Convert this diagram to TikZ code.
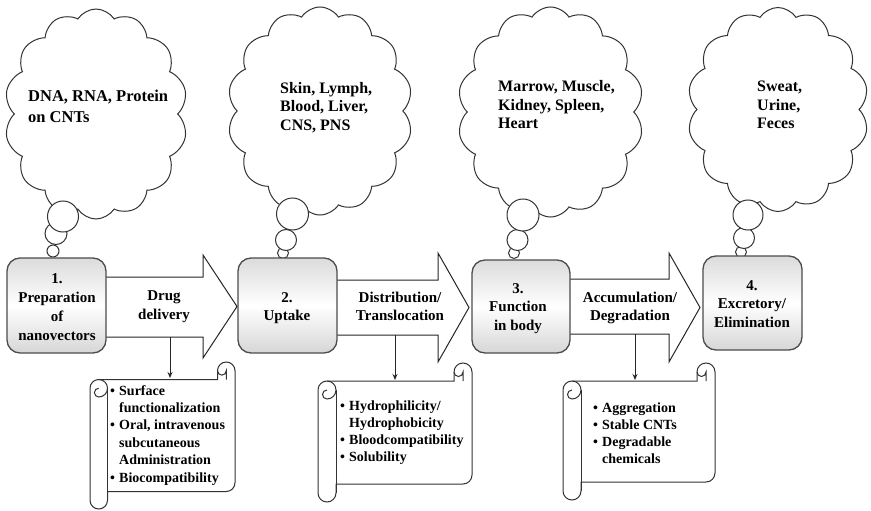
\documentclass[tikz,border=0pt]{standalone}
\usepackage{fontspec}
\setmainfont{Liberation Serif}
\usetikzlibrary{shapes.symbols,arrows.meta}

\newcommand{\tabL}[1]{\begin{tabular}[t]{@{}l@{}}#1\end{tabular}}
\newcommand{\tabC}[1]{\begin{tabular}[t]{@{}c@{}}#1\end{tabular}}
\newcommand{\myBul}{\makebox[9pt][l]{\textbullet}}
\newcommand{\myInd}{\hspace*{9pt}}

% scroll: L T R B ch  (image coordinates, y downwards)
\newcommand{\myScroll}[5]{%
  \pgfmathsetmacro{\sL}{#1}\pgfmathsetmacro{\sT}{#2}%
  \pgfmathsetmacro{\sR}{#3}\pgfmathsetmacro{\sB}{#4}%
  \pgfmathsetmacro{\sC}{#5}\pgfmathsetmacro{\sH}{#5/2}\pgfmathsetmacro{\sQ}{#5/4}%
  \filldraw[scrollline, fill=white]
    (\sL+\sH, \sT+\sC) -- (\sR-\sC, \sT+\sC) -- (\sR-\sC, \sT+\sH)
    arc[start angle=180, end angle=360, radius=\sH]
    -- (\sR, \sB-\sC-\sH) arc[start angle=0, end angle=90, radius=\sH]
    -- (\sL+\sC, \sB-\sC) -- (\sL+\sC, \sB-\sH)
    arc[start angle=0, end angle=180, radius=\sH]
    -- (\sL, \sT+\sC+\sH) arc[start angle=180, end angle=270, radius=\sH] -- cycle;
  \draw[scrollline] (\sL+\sC, \sT+\sC+\sH) -- (\sL+\sC, \sB-\sH);
  \draw[scrollline] (\sL+\sH, \sT+\sC) arc[start angle=270, end angle=450, radius=\sH]
    arc[start angle=90, end angle=270, radius=\sQ];
  \draw[scrollline] (\sR-\sH, \sT+\sC) -- (\sR-\sH, \sT+\sH)
    arc[start angle=0, end angle=180, radius=\sQ];
}

\begin{document}
\begin{tikzpicture}[x=1pt, y=-1pt,
  cloudsty/.style={cloud, draw=black!80, line width=1pt, fill=white, cloud puffs=14,
    cloud puff arc=115, cloud ignores aspect, inner sep=0pt},
  bubble/.style={draw=black!80, line width=1pt, fill=white},
  stage/.style={draw=black!70, line width=1.3pt, rounded corners=13pt,
    top color=gray!28, bottom color=gray!32, middle color=white},
  bigarrow/.style={draw=black!85, line width=1pt, fill=white, line join=miter},
  scrollline/.style={draw=black!80, line width=1pt},
  cloudtxt/.style={font=\bfseries\fontsize{16}{18.5}\selectfont, anchor=base west, inner sep=0pt},
  stagetxt/.style={font=\bfseries\fontsize{15}{19}\selectfont, anchor=base, inner sep=0pt},
  scrolltxt/.style={font=\bfseries\fontsize{14}{17}\selectfont, anchor=base west, inner sep=0pt},
  down/.style={draw=black!85, line width=1pt, -{Stealth[length=6pt,width=5pt]}}]
\useasboundingbox (0,0) rectangle (871,511);
\fill[white] (0,0) rectangle (871,511);

% ---------- clouds ----------
\node[cloudsty, minimum width=183pt, minimum height=210pt] (c1) at (96,114) {};
\node[cloudsty, minimum width=185pt, minimum height=208pt] (c2) at (320,111) {};
\node[cloudsty, minimum width=186pt, minimum height=210pt] (c3) at (550.5,112) {};
\node[cloudsty, minimum width=181pt, minimum height=204pt] (c4) at (778,109.5) {};

% thought bubbles
\node[bubble, circle, minimum size=12pt, inner sep=0pt] (p1c) at (53,251) {};
\node[bubble, circle, minimum size=22pt, inner sep=0pt] (p1b) at (56,233.5) {};
\node[bubble, circle, minimum size=31pt, inner sep=0pt] (p1a) at (63,216.5) {};
\node[bubble, circle, minimum size=11pt, inner sep=0pt] (p2c) at (283,253) {};
\node[bubble, circle, minimum size=21pt, inner sep=0pt] (p2b) at (286,240) {};
\node[bubble, circle, minimum size=32pt, inner sep=0pt] (p2a) at (292.5,214) {};
\node[bubble, circle, minimum size=11pt, inner sep=0pt] (p3c) at (514,253) {};
\node[bubble, circle, minimum size=21pt, inner sep=0pt] (p3b) at (517.5,240) {};
\node[bubble, circle, minimum size=32pt, inner sep=0pt] (p3a) at (523,215) {};
\node[bubble, circle, minimum size=11pt, inner sep=0pt] (p4c) at (741,252) {};
\node[bubble, circle, minimum size=21pt, inner sep=0pt] (p4b) at (744,238) {};
\node[bubble, circle, minimum size=30pt, inner sep=0pt] (p4a) at (748,215) {};

% cloud texts
\node[cloudtxt, font=\bfseries\fontsize{16.5}{21}\selectfont] (ct1) at (28,102) {\tabL{DNA, RNA, Protein\\on CNTs}};
\node[cloudtxt] (ct2) at (280,93) {\tabL{Skin, Lymph,\\Blood, Liver,\\CNS, PNS}};
\node[cloudtxt] (ct3) at (498,92) {\tabL{Marrow, Muscle,\\Kidney, Spleen,\\Heart}};
\node[cloudtxt] (ct4) at (757,92) {\tabL{Sweat,\\Urine,\\Feces}};

% ---------- big arrows ----------
\draw[bigarrow] (100,277) -- (203,277) -- (203,255) -- (237,306.5) -- (203,358) -- (203,337) -- (100,337) -- cycle;
\draw[bigarrow] (330,280) -- (438,280) -- (438,253) -- (469,307.5) -- (438,362) -- (438,335) -- (330,335) -- cycle;
\draw[bigarrow] (563,279) -- (669,279) -- (669,253) -- (700,307.5) -- (669,362) -- (669,334) -- (563,334) -- cycle;

\node[stagetxt] (a1) at (164,300) {\tabC{Drug\\delivery}};
\node[stagetxt, font=\bfseries\fontsize{15}{18.5}\selectfont] (a2) at (400,302) {\tabC{Distribution/\\Translocation}};
\node[stagetxt, font=\bfseries\fontsize{15}{18.5}\selectfont] (a3) at (630,302) {\tabC{Accumulation/\\Degradation}};

% ---------- stage boxes ----------
\node[stage, minimum width=99pt, minimum height=95pt] (b1) at (56.5,305.5) {};
\node[stage, minimum width=99pt, minimum height=95pt] (b2) at (287.5,305.5) {};
\node[stage, minimum width=98pt, minimum height=93pt] (b3) at (521,306.5) {};
\node[stage, minimum width=99pt, minimum height=94pt] (b4) at (752.5,303) {};

\node[stagetxt] (t1) at (57,283) {\tabC{1.\\Preparation\\of\\nanovectors}};
\node[stagetxt, font=\bfseries\fontsize{15}{18}\selectfont] (t2) at (287,302) {\tabC{2.\\Uptake}};
\node[stagetxt, font=\bfseries\fontsize{15}{18.5}\selectfont] (t3) at (518,293) {\tabC{3.\\Function\\in body}};
\node[stagetxt, font=\bfseries\fontsize{15}{18.5}\selectfont] (t4) at (752,290) {\tabC{4.\\Excretory/\\Elimination}};

% ---------- scrolls ----------
\myScroll{90}{362}{235}{509}{17.5}
\myScroll{318}{363}{472}{502}{18}
\myScroll{563}{363}{715}{500}{18}

\node[scrolltxt, font=\bfseries\fontsize{14}{17.4}\selectfont] (s1) at (110,395)
  {\tabL{\myBul Surface\\\myInd functionalization\\\myBul Oral, intravenous\\\myInd subcutaneous\\\myInd Administration\\\myBul Biocompatibility}};
\node[scrolltxt] (s2) at (340,410)
  {\tabL{\myBul Hydrophilicity/\\\myInd Hydrophobicity\\\myBul Bloodcompatibility\\\myBul Solubility}};
\node[scrolltxt] (s3) at (593,412)
  {\tabL{\myBul Aggregation\\\myBul Stable CNTs\\\myBul Degradable\\\myInd chemicals}};

% ---------- down arrows ----------
\coordinate (d1) at (170,337);  \coordinate (e1) at (170,378);
\coordinate (d2) at (395,335);  \coordinate (e2) at (395,380);
\coordinate (d3) at (635,334);  \coordinate (e3) at (635,380);
\draw[down] (d1) -- (e1);
\draw[down] (d2) -- (e2);
\draw[down] (d3) -- (e3);
\end{tikzpicture}
\end{document}
